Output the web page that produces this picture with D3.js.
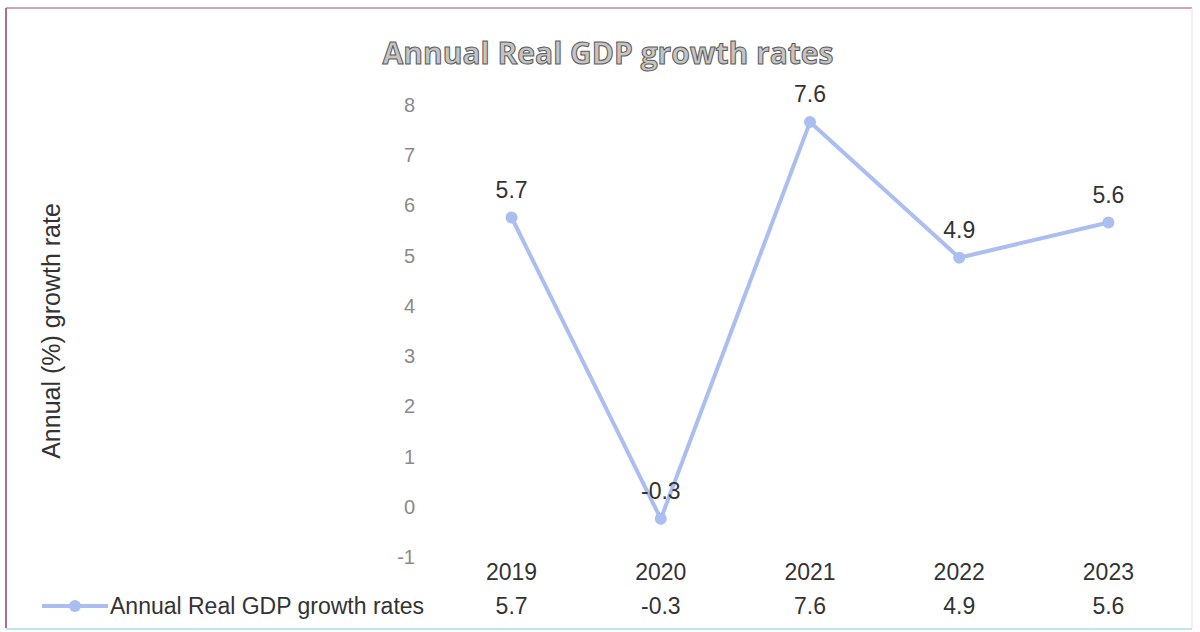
<!DOCTYPE html>
<html>
<head>
<meta charset="utf-8">
<script src="https://cdnjs.cloudflare.com/ajax/libs/d3/7.8.5/d3.min.js"></script>
<style>
  body { margin: 0; background: #fff; }
  text { font-family: "Liberation Sans", Arial, sans-serif; }
</style>
</head>
<body>
<div id="container"></div>
<script>
// data
var years = ["2019", "2020", "2021", "2022", "2023"];
var growth = [5.7, -0.3, 7.6, 4.9, 5.6];
var yTicks = [-1, 0, 1, 2, 3, 4, 5, 6, 7, 8];
var seriesName = "Annual Real GDP growth rates";
var titleText = "Annual Real GDP growth rates";
var yLabel = "Annual (%) growth rate";

var width = 1200, height = 632;
var lineColor = "#aabef0";

var svg = d3.select("#container")
    .append("svg")
    .attr("width", width)
    .attr("height", height);

// frame (scanned look)
svg.append("line").attr("x1", 6).attr("y1", 8).attr("x2", 1192).attr("y2", 8)
    .attr("stroke", "#b98aa3").attr("stroke-width", 1.5);
svg.append("line").attr("x1", 6).attr("y1", 8).attr("x2", 6).attr("y2", 628)
    .attr("stroke", "#a8708e").attr("stroke-width", 2);
svg.append("line").attr("x1", 1192).attr("y1", 8).attr("x2", 1192).attr("y2", 628)
    .attr("stroke", "#f0dce8").attr("stroke-width", 1);
svg.append("line").attr("x1", 6).attr("y1", 629).attr("x2", 1192).attr("y2", 629)
    .attr("stroke", "#bfe6ec").attr("stroke-width", 2);

var x = d3.scaleBand()
    .domain(years)
    .range([437, 1183]);

var y = d3.scaleLinear()
    .domain([-1, 8])
    .range([554, 102]);

// title
svg.append("text")
    .attr("x", 608)
    .attr("y", 64)
    .attr("text-anchor", "middle")
    .style("font-family", "'Open Sans', sans-serif")
    .style("font-weight", "bold")
    .style("font-size", "30px")
    .attr("fill", "#c4c4c4")
    .attr("stroke", "#5a5a5a")
    .attr("stroke-width", 1)
    .text(titleText);

// y axis label
svg.append("text")
    .attr("transform", "translate(60,331) rotate(-90)")
    .attr("text-anchor", "middle")
    .style("font-size", "25px")
    .attr("fill", "#333")
    .text(yLabel);

// y ticks (no axis line)
svg.append("g")
    .selectAll("text")
    .data(yTicks)
    .enter()
    .append("text")
    .attr("x", 415)
    .attr("y", d => y(d) + 10)
    .attr("text-anchor", "end")
    .style("font-size", "20px")
    .attr("fill", "#8a8a8a")
    .text(d => d);

var cx = d => x(d) + x.bandwidth() / 2;

// line
var line = d3.line()
    .x((d, i) => cx(years[i]))
    .y(d => y(d));

svg.append("path")
    .datum(growth)
    .attr("d", line)
    .attr("fill", "none")
    .attr("stroke", lineColor)
    .attr("stroke-width", 4)
    .attr("stroke-linejoin", "round");

svg.selectAll("circle.pt")
    .data(growth)
    .enter()
    .append("circle")
    .attr("class", "pt")
    .attr("cx", (d, i) => cx(years[i]))
    .attr("cy", d => y(d))
    .attr("r", 6)
    .attr("fill", lineColor);

// data labels
svg.selectAll("text.lbl")
    .data(growth)
    .enter()
    .append("text")
    .attr("class", "lbl")
    .attr("x", (d, i) => cx(years[i]))
    .attr("y", d => y(d) - 20)
    .attr("text-anchor", "middle")
    .style("font-size", "23px")
    .attr("fill", "#333")
    .text(d => d);

// data table below
svg.selectAll("text.yr")
    .data(years)
    .enter()
    .append("text")
    .attr("class", "yr")
    .attr("x", d => cx(d))
    .attr("y", 580)
    .attr("text-anchor", "middle")
    .style("font-size", "23px")
    .attr("fill", "#333")
    .text(d => d);

svg.selectAll("text.val")
    .data(growth)
    .enter()
    .append("text")
    .attr("class", "val")
    .attr("x", (d, i) => cx(years[i]))
    .attr("y", 614)
    .attr("text-anchor", "middle")
    .style("font-size", "23px")
    .attr("fill", "#333")
    .text(d => d);

// legend key
var leg = svg.append("g").attr("transform", "translate(0,606)");
leg.append("line")
    .attr("x1", 42).attr("x2", 108)
    .attr("stroke", lineColor).attr("stroke-width", 4);
leg.append("circle")
    .attr("cx", 75).attr("r", 6).attr("fill", lineColor);
leg.append("text")
    .attr("x", 110)
    .attr("y", 8)
    .style("font-size", "23px")
    .attr("fill", "#333")
    .text(seriesName);
</script>
</body>
</html>
